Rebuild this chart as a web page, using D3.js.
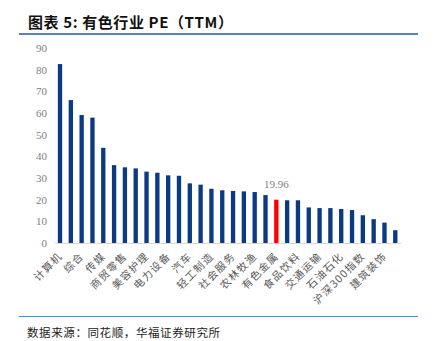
<!DOCTYPE html>
<html><head><meta charset="utf-8">
<script src="https://cdn.jsdelivr.net/npm/d3@7"></script>
<style>body{margin:0;background:#fff}svg{display:block}</style>
</head><body>
<script>
const categories = ["计算机","国防军工","综合","电子","传媒","通信","商贸零售","医药生物","美容护理","机械设备","电力设备","环保","汽车","基础化工","轻工制造","纺织服饰","社会服务","家用电器","农林牧渔","公用事业","有色金属","建筑材料","食品饮料","房地产","交通运输","钢铁","石油石化","煤炭","沪深300指数","非银金融","建筑装饰","银行"];
const peValues = [82.5,65.9,59.0,57.8,43.9,35.9,34.9,34.4,32.9,32.4,31.2,31.0,27.5,26.9,25.0,24.3,24.0,23.8,23.5,22.1,19.96,19.7,19.7,16.4,16.1,16.1,15.7,15.2,12.8,11.0,9.4,5.9];
const yTicks = [0,10,20,30,40,50,60,70,80,90];
const highlight = "有色金属";
const highlightLabel = "19.96";

const W=437,H=341;
const svg=d3.select("body").append("svg").attr("width",W).attr("height",H);
const serif="'Liberation Serif','DejaVu Serif',serif";
const cjk="'Noto Sans CJK SC','Noto Sans CJK JP',sans-serif";

svg.append("text").attr("x",28).attr("y",28).attr("font-family",cjk).attr("font-weight","bold")
  .attr("font-size",15).attr("letter-spacing",0.6).attr("fill","#111").text("图表 5:  有色行业 PE（TTM）");
svg.append("line").attr("x1",19).attr("x2",418).attr("y1",34).attr("y2",34).attr("stroke","#1f5aa8").attr("stroke-width",1.5);
svg.append("line").attr("x1",19).attr("x2",418).attr("y1",316.5).attr("y2",316.5).attr("stroke","#5b86c8").attr("stroke-width",1);
svg.append("text").attr("x",27).attr("y",337).attr("font-family",cjk).attr("font-size",11.5).attr("letter-spacing",0.6).attr("fill","#222")
  .text("数据来源：同花顺，华福证券研究所");

const x=d3.scaleBand().domain(categories).range([54.6,400.7]).paddingInner(0.6).paddingOuter(0.3);
const y=d3.scaleLinear().domain([0,90]).range([243,47.8]);

const yAxis=svg.append("g").attr("transform","translate(47,0)")
  .call(d3.axisLeft(y).tickValues(yTicks).tickSize(0).tickPadding(0));
yAxis.select(".domain").remove();
yAxis.selectAll("text").attr("font-family",serif).attr("font-size",11).attr("fill","#808080");

svg.selectAll("rect.bar").data(categories).enter().append("rect").attr("class","bar")
  .attr("x",d=>x(d)).attr("width",x.bandwidth())
  .attr("y",(d,i)=>y(peValues[i])).attr("height",(d,i)=>y(0)-y(peValues[i]))
  .attr("fill",d=>d===highlight?"#ff0000":"#0b3a83");

const xAxis=svg.append("g").attr("transform","translate(0,243)")
  .call(d3.axisBottom(x).tickSize(0).tickPadding(0).tickFormat((d,i)=>i%2===0?d:""));
xAxis.select(".domain").attr("stroke","#d9d9d9");
xAxis.selectAll("text").attr("font-family",cjk).attr("font-size",10.5).attr("letter-spacing",1.2).attr("fill","#595959")
  .attr("text-anchor","end").attr("dy",0)
  .attr("transform","translate(3,14) rotate(-45)");

const hi=categories.indexOf(highlight);
svg.append("text").attr("x",x(highlight)+x.bandwidth()/2).attr("y",y(peValues[hi])-12)
  .attr("text-anchor","middle").attr("font-family",serif).attr("font-size",11).attr("fill","#7f7f7f")
  .text(highlightLabel);
</script>
</body></html>
